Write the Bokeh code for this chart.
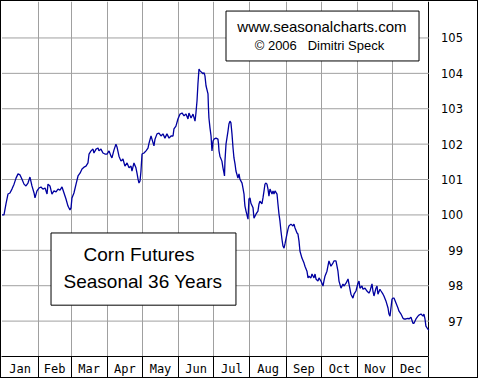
from bokeh.plotting import figure
from bokeh.models import FixedTicker, Range1d, BoxAnnotation, Label, Grid
from bokeh.core.properties import value
from bokeh.embed import file_html
from bokeh.resources import INLINE

# ---- data ----
months = ["Jan", "Feb", "Mar", "Apr", "May", "Jun", "Jul", "Aug", "Sep", "Oct", "Nov", "Dec"]
month_starts = [0, 31, 59, 90, 120, 151, 181, 212, 243, 273, 304, 334, 365]
y_ticks = [97, 98, 99, 100, 101, 102, 103, 104, 105]
y_bottom, y_top = 96.0, 106.03

days = [0, 1.7, 3.4, 5.1, 6.8, 8.5, 10.3, 12.0, 13.7, 15.4, 17.1, 18.8, 20.5, 22.2, 23.9, 25.6, 27.4, 28.2,
        29.9, 31.6, 33.3, 35.0, 36.8, 38.5, 39.3, 41.0, 42.7, 44.4, 46.2, 47.9, 49.6, 51.3, 53.0, 54.7, 56.4,
        58.1, 59.0, 59.8, 61.5, 63.3, 65.0, 66.7, 68.4, 70.1, 71.8, 73.5, 74.4, 76.1, 77.8, 78.6, 80.4, 82.1,
        82.9, 84.6, 86.3, 88.0, 89.8, 91.5, 93.2, 94.0, 95.7, 97.4, 98.3, 100.0, 101.7, 103.4, 105.1, 106.9,
        108.6, 110.3, 111.1, 112.8, 114.5, 115.4, 116.3, 117.1, 118.0, 118.8, 119.7, 121.4, 123.1, 124.8,
        125.7, 127.4, 128.2, 129.9, 130.8, 132.5, 134.2, 135.9, 137.6, 139.3, 141.0, 142.8, 144.5, 146.2,
        147.0, 148.7, 150.4, 152.2, 153.9, 155.6, 157.3, 159.0, 159.8, 161.6, 163.3, 165.0, 165.8, 166.7,
        167.5, 168.4, 169.3, 171.0, 171.8, 172.7, 173.5, 174.4, 176.1, 176.5, 176.9, 177.8, 178.7, 179.5,
        180.0, 180.4, 181.2, 182.9, 184.6, 185.1, 185.5, 186.3, 188.0, 188.9, 189.8, 190.2, 190.6, 191.5,
        193.2, 194.0, 194.9, 195.7, 196.6, 197.5, 198.3, 199.2, 200.0, 201.7, 202.6, 203.4, 205.2, 206.0,
        206.9, 207.3, 207.7, 208.6, 210.3, 211.1, 212.0, 212.8, 214.6, 215.4, 217.1, 218.8, 219.7, 220.5,
        222.2, 223.1, 224.0, 224.8, 225.7, 226.5, 227.4, 228.2, 229.1, 230.8, 231.7, 232.5, 233.4, 235.1,
        235.9, 236.8, 237.6, 238.5, 239.3, 240.2, 241.1, 241.9, 243.6, 244.5, 245.3, 247.0, 248.7, 249.6,
        250.5, 252.2, 253.0, 253.9, 254.7, 256.4, 258.2, 259.0, 260.7, 261.6, 262.4, 264.1, 265.0, 266.7,
        267.6, 268.4, 270.1, 271.0, 272.7, 274.4, 275.2, 276.1, 277.8, 279.5, 281.2, 282.9, 283.8, 285.5,
        287.2, 288.1, 289.8, 291.5, 292.3, 294.1, 295.8, 296.6, 298.3, 300.0, 300.9, 302.6, 304.3, 305.2,
        306.0, 307.7, 308.6, 310.3, 312.0, 313.7, 314.6, 316.3, 317.1, 318.0, 319.7, 320.6, 321.4, 323.1,
        324.0, 325.7, 326.5, 328.2, 330.0, 330.8, 331.7, 333.4, 334.2, 335.1, 336.8, 338.5, 339.4, 341.1,
        342.8, 343.6, 345.3, 347.1, 347.9, 349.6, 351.3, 352.2, 353.9, 355.6, 356.4, 358.2, 359.9, 360.7,
        361.6, 362.4, 364.1, 365.0]

values = [100.00, 100.00, 100.31, 100.59, 100.62, 100.73, 100.87, 101.04, 101.16, 101.13, 101.01, 100.87,
          100.82, 100.90, 101.07, 100.82, 100.62, 100.48, 100.68, 100.76, 100.79, 100.73, 100.76, 100.59,
          100.87, 100.82, 100.59, 100.68, 100.65, 100.73, 100.70, 100.79, 100.62, 100.45, 100.25, 100.14,
          100.20, 100.48, 100.62, 100.87, 101.10, 101.18, 101.30, 101.35, 101.38, 101.47, 101.72, 101.81,
          101.86, 101.75, 101.86, 101.89, 101.81, 101.86, 101.75, 101.72, 101.72, 101.81, 101.66, 101.61,
          101.83, 102.00, 101.92, 101.66, 101.52, 101.58, 101.38, 101.47, 101.33, 101.38, 101.24, 101.47,
          101.33, 101.18, 101.01, 100.90, 100.96, 101.24, 101.72, 101.75, 101.81, 101.89, 102.03, 102.23,
          102.14, 101.95, 102.14, 102.29, 102.31, 102.23, 102.29, 102.17, 102.29, 102.17, 102.23, 102.23,
          102.43, 102.51, 102.71, 102.85, 102.88, 102.80, 102.85, 102.71, 102.88, 102.74, 102.85, 102.65,
          102.88, 103.22, 103.70, 104.12, 104.07, 104.02, 103.99, 104.02, 103.93, 103.65, 103.42, 103.02,
          102.74, 102.46, 102.23, 101.81, 101.95, 102.09, 102.14, 102.17, 102.14, 102.00, 101.81, 101.66,
          101.52, 101.33, 101.18, 101.10, 101.52, 102.00, 102.37, 102.57, 102.65, 102.60, 102.29, 101.89,
          101.61, 101.44, 101.24, 101.04, 101.16, 101.01, 100.90, 100.76, 100.59, 100.39, 100.25, 100.11,
          99.88, 100.45, 100.48, 100.33, 100.20, 99.91, 100.02, 100.11, 100.31, 100.39, 100.31, 100.48,
          100.68, 100.87, 100.90, 100.87, 100.73, 100.53, 100.73, 100.59, 100.68, 100.59, 100.68, 100.59,
          100.31, 100.02, 99.83, 99.54, 99.32, 99.12, 99.06, 99.18, 99.46, 99.60, 99.69, 99.74, 99.69,
          99.74, 99.63, 99.49, 99.46, 99.26, 98.98, 98.78, 98.64, 98.55, 98.41, 98.22, 98.27, 98.22, 98.33,
          98.22, 98.33, 98.19, 98.13, 98.22, 98.13, 97.99, 98.13, 98.27, 98.41, 98.70, 98.55, 98.64, 98.70,
          98.70, 98.41, 98.13, 97.93, 98.05, 97.99, 98.07, 98.19, 98.05, 97.76, 97.65, 97.76, 97.85, 98.07,
          98.13, 97.93, 97.99, 97.90, 97.93, 97.85, 97.79, 97.85, 98.05, 97.85, 97.71, 97.93, 97.99, 97.76,
          97.90, 97.85, 97.76, 97.71, 97.57, 97.37, 97.20, 97.14, 97.62, 97.65, 97.65, 97.51, 97.37, 97.28,
          97.20, 97.08, 97.06, 97.06, 97.08, 97.06, 97.11, 96.94, 96.94, 97.06, 97.14, 97.17, 97.20, 97.14,
          97.20, 97.06, 96.86, 96.77, 96.75]

month_mids = [(a + b) / 2 for a, b in zip(month_starts[:-1], month_starts[1:])]
x_end = month_starts[-1]

# frame spans the plot area plus the right-hand label column
p = figure(width=478, height=378,
           x_range=Range1d(-0.43, 408.2), y_range=Range1d(y_bottom, y_top),
           output_backend="svg", toolbar_location=None, y_axis_location=None,
           min_border_left=0, min_border_top=0, min_border_right=0, min_border_bottom=23,
           background_fill_color="white", border_fill_color="white",
           outline_line_color=None)
p.styles = {"border": "1px solid black"}

# vertical grid (month boundaries), black right edge of the plot area
p.xgrid.ticker = FixedTicker(ticks=month_starts[1:-1])
p.xgrid.grid_line_color = "#a0a0a0"
p.ygrid.visible = False
p.add_layout(Grid(dimension=0, ticker=FixedTicker(ticks=[x_end]),
                  grid_line_color="black", grid_line_width=1))
# horizontal grid lines limited to the plot area
p.segment(x0=[month_starts[0]] * len(y_ticks), x1=[x_end] * len(y_ticks), y0=y_ticks, y1=y_ticks,
          line_color="#a0a0a0", line_width=1)

# bottom axis: month names, black separators
xa = p.xaxis[0]
xa.bounds = (-0.43, x_end)
xa.ticker = FixedTicker(ticks=month_mids, minor_ticks=month_starts[1:])
xa.major_label_overrides = {m: name for m, name in zip(month_mids, months)}
xa.major_tick_out = 0
xa.major_tick_in = 0
xa.major_tick_line_color = None
xa.minor_tick_out = 23
xa.minor_tick_in = 0
xa.minor_tick_line_color = "black"
xa.axis_line_color = "black"
xa.major_label_standoff = -18
xa.major_label_text_font = "DejaVu Sans Mono"
xa.major_label_text_font_size = "12px"
xa.major_label_text_color = "black"

# price labels in the right-hand column, right-aligned
p.text(x=[x_end] * len(y_ticks), y=y_ticks, text=[str(t) for t in y_ticks], x_offset=34,
       text_align="right", text_baseline="middle", text_font=value("DejaVu Sans"),
       text_font_size=value("11.5px"), text_color="black")

# curve
p.line(days, values, line_color="#0000a0", line_width=1.3)

# copyright box
p.add_layout(BoxAnnotation(left=191.5, right=356.5, top=105.76, bottom=104.35,
                           fill_color="white", fill_alpha=1, line_color="black",
                           line_alpha=1, line_width=1))
p.add_layout(Label(x=273.5, y=105.31, text="www.seasonalcharts.com", text_align="center",
                   text_baseline="middle", text_font="Liberation Sans", text_font_size="15px",
                   text_color="black"))
p.add_layout(Label(x=271.4, y=104.80, text="\u00a9 2006\u00a0\u00a0 Dimitri Speck", text_align="center",
                   text_baseline="middle", text_font="Liberation Sans", text_font_size="13px",
                   text_color="black"))

# title box
p.add_layout(BoxAnnotation(left=41.9, right=200.0, top=99.49, bottom=97.45,
                           fill_color="white", fill_alpha=1, line_color="black",
                           line_alpha=1, line_width=1))
p.add_layout(Label(x=117.1, y=98.89, text="Corn Futures", text_align="center",
                   text_baseline="middle", text_font="Liberation Sans", text_font_size="19px",
                   text_color="black"))
p.add_layout(Label(x=120.5, y=98.13, text="Seasonal 36 Years", text_align="center",
                   text_baseline="middle", text_font="Liberation Sans", text_font_size="19px",
                   text_color="black"))

open("out.html", "w").write(file_html(p, INLINE))
